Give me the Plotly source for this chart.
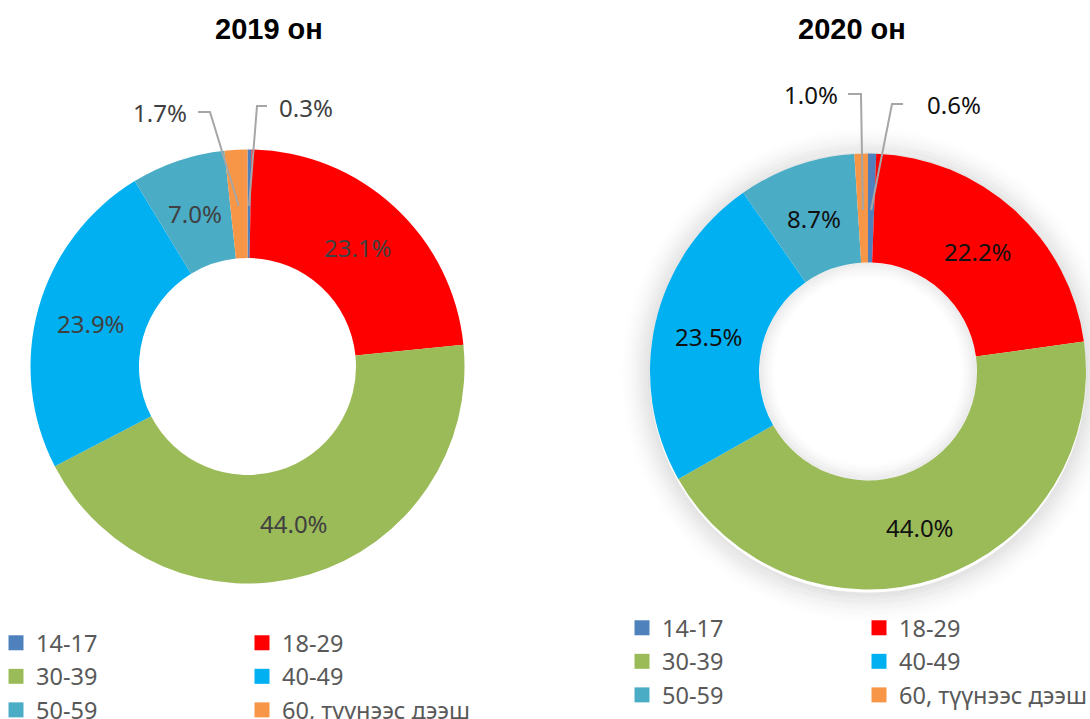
import math
import plotly.graph_objects as go

# ---------------- data ----------------
categories = ["14-17", "18-29", "30-39", "40-49", "50-59", "60, түүнээс дээш"]
values_2019 = [0.3, 23.1, 44.0, 23.9, 7.0, 1.7]
values_2020 = [0.6, 22.2, 44.0, 23.5, 8.7, 1.0]
titles = ["2019 он", "2020 он"]
colors = ["#4F81BD", "#FF0000", "#9BBB59", "#00B0F0", "#4BACC6", "#F79646"]

# ---------------- layout constants ----------------
W, H = 1090, 719
HOLE = 0.5
charts = [
    dict(values=values_2019, title=titles[0], cx=247.5, cy=366.5, R=217,
         title_x=269, text_color="#404040", shadow=False,
         legend_x=(-4, 242), legend_top=621,
         callouts={0: dict(tx=277, ty=107, anchor="left", pts=[(267, 106), (257, 106)]),
                   5: dict(tx=189, ty=112, anchor="right", pts=[(198, 112), (210, 112)])}),
    dict(values=values_2020, title=titles[1], cx=868, cy=371.5, R=218,
         title_x=852, text_color="#111111", shadow=True,
         legend_x=(622, 859), legend_top=606,
         callouts={0: dict(tx=925, ty=105, anchor="left", pts=[(903, 104), (892, 104)]),
                   5: dict(tx=840, ty=94, anchor="right", pts=[(848, 94), (861, 94)])}),
]
SMALL = 3.0
LABEL_FONT = "Noto Sans"
LABEL_SIZE = 24


def px(x, y):
    return x / W, 1 - y / H


fig = go.Figure()
shapes = []
annotations = []
legend_defs = {}
leg_idx = 1

for ch in charts:
    vals = ch["values"]
    cx, cy, R = ch["cx"], ch["cy"], ch["R"]
    r_in = R * HOLE
    total = sum(vals)

    fig.add_trace(go.Pie(
        labels=categories, values=vals, hole=HOLE, sort=False,
        direction="clockwise", rotation=0,
        marker=dict(colors=colors, line=dict(width=0)),
        textinfo="none",
        domain=dict(x=[(cx - R) / W, (cx + R) / W],
                    y=[1 - (cy + R) / H, 1 - (cy - R) / H]),
        showlegend=False, hoverinfo="label+percent",
    ))

    # data labels: mid angle of each slice, mid radius of the ring
    cum = 0.0
    mids = []
    for v in vals:
        mids.append((cum + v / 2) / total * 2 * math.pi)
        cum += v
    rm = (R + r_in) / 2
    for i, v in enumerate(vals):
        lx = cx + rm * math.sin(mids[i])
        ly = cy - rm * math.cos(mids[i])
        font = dict(family=LABEL_FONT, size=LABEL_SIZE, color=ch["text_color"])
        if v >= SMALL:
            annotations.append(dict(x=lx / W, y=1 - (ly + 1) / H, xref="paper", yref="paper",
                                    text=f"{v:.1f}%", showarrow=False,
                                    xanchor="center", yanchor="middle", font=font))
        else:
            co = ch["callouts"][i]
            pts = co["pts"] + [(lx, ly + 2)]
            path = "M " + " L ".join(f"{px(x, y)[0]:.5f},{px(x, y)[1]:.5f}" for x, y in pts)
            shapes.append(dict(type="path", path=path, xref="paper", yref="paper",
                               line=dict(color="#A6A6A6", width=2), layer="above"))
            annotations.append(dict(x=co["tx"] / W, y=1 - co["ty"] / H,
                                    xref="paper", yref="paper",
                                    text=f"{v:.1f}%", showarrow=False,
                                    xanchor=co["anchor"], yanchor="middle", font=font))

    # title
    annotations.append(dict(x=ch["title_x"] / W, y=1 - 29 / H, xref="paper", yref="paper",
                            text=f"<b>{ch['title']}</b>", showarrow=False,
                            xanchor="center", yanchor="middle",
                            font=dict(family="Liberation Sans", size=29, color="#000000")))

    # soft shadow (2020 chart)
    if ch["shadow"]:
        N = 18
        for k in range(N):
            rr = R + 1 + k * 1.8
            a = 0.10 * (1 - k / N) ** 1.7
            shapes.append(dict(type="circle", xref="paper", yref="paper",
                               x0=(cx - rr) / W, x1=(cx + rr) / W,
                               y0=1 - (cy + 3 + rr) / H, y1=1 - (cy + 3 - rr) / H,
                               line=dict(color=f"rgba(0,0,0,{a:.3f})", width=2.0),
                               fillcolor="rgba(0,0,0,0)", layer="below"))
        M = 12
        for k in range(M):
            rr = r_in - 1 - k * 1.5
            a = 0.075 * (1 - k / M) ** 1.6
            shapes.append(dict(type="circle", xref="paper", yref="paper",
                               x0=(cx - rr) / W, x1=(cx + rr) / W,
                               y0=1 - (cy + rr) / H, y1=1 - (cy - rr) / H,
                               line=dict(color=f"rgba(0,0,0,{a:.3f})", width=1.7),
                               fillcolor="rgba(0,0,0,0)", layer="above"))

    # legends: two columns, each a vertical legend of legend-only square markers
    for col, idxs in enumerate([[0, 2, 4], [1, 3, 5]]):
        name = "legend" if leg_idx == 1 else f"legend{leg_idx}"
        for j in idxs:
            fig.add_trace(go.Scatter(
                x=[None], y=[None], mode="markers", name=categories[j],
                marker=dict(symbol="square", size=15, color=colors[j]),
                legend=name, showlegend=True, hoverinfo="skip",
            ))
        legend_defs[name] = dict(
            x=ch["legend_x"][col] / W, y=1 - ch["legend_top"] / H,
            xanchor="left", yanchor="top", orientation="v",
            bgcolor="rgba(0,0,0,0)", borderwidth=0, tracegroupgap=0,
            font=dict(family=LABEL_FONT, size=23.5, color="#595959"),
            itemclick=False, itemdoubleclick=False,
        )
        leg_idx += 1

fig.update_layout(
    width=W, height=H, margin=dict(l=0, r=0, t=0, b=0, autoexpand=False),
    paper_bgcolor="white", plot_bgcolor="white",
    xaxis=dict(visible=False), yaxis=dict(visible=False),
    shapes=shapes, annotations=annotations,
    **legend_defs,
)

fig.write_html("out.html", config={"displayModeBar": False},
               post_script="document.body.style.margin='0px';")
